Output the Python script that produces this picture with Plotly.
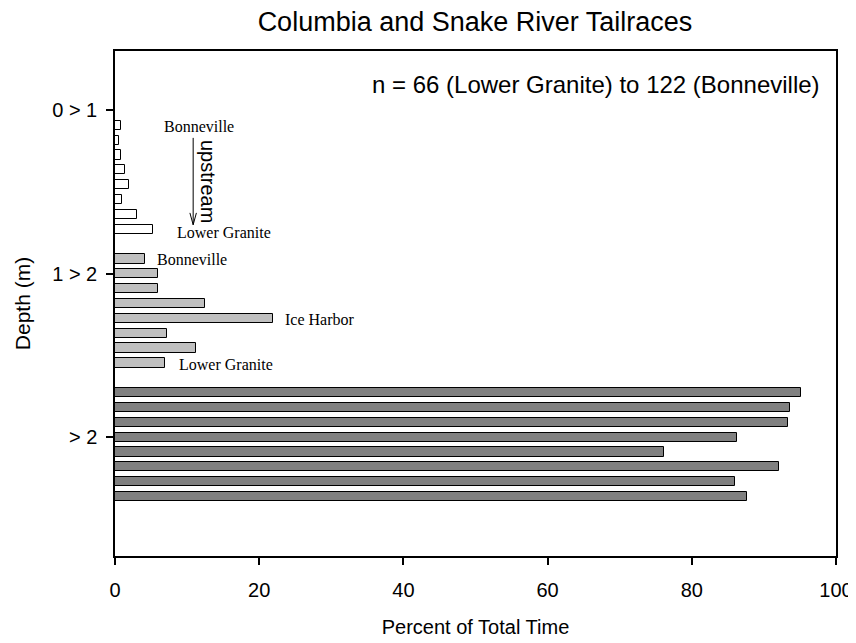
import plotly.graph_objects as go

# ---- data ----
depth_classes = ["0 > 1", "1 > 2", "> 2"]
sites = ["Bonneville", "The Dalles", "John Day", "McNary", "Ice Harbor",
         "Lower Monumental", "Little Goose", "Lower Granite"]
pct_0_1 = [0.8, 0.5, 0.9, 1.4, 1.9, 1.0, 3.0, 5.3]
pct_1_2 = [4.2, 5.9, 5.9, 12.5, 21.9, 7.2, 11.2, 7.0]
pct_gt2 = [95.1, 93.6, 93.4, 86.2, 76.2, 92.1, 86.0, 87.7]
group_values = [pct_0_1, pct_1_2, pct_gt2]
group_colors = ["#ffffff", "#c0c0c0", "#808080"]

FONT = "Liberation Sans, Arial, sans-serif"
SERIF = "Liberation Serif, Times New Roman, serif"

fig = go.Figure()
n = len(sites)
for g, vals in enumerate(group_values):
    ypos = [g * (n + 1) + i for i in range(n)]
    fig.add_trace(go.Bar(
        x=vals, y=ypos, orientation="h", width=0.62,
        marker=dict(color=group_colors[g], line=dict(color="#000000", width=1)),
        name=depth_classes[g], text=sites, hoverinfo="x+text+name",
        textposition="none", showlegend=False,
    ))

tick_pos = [g * (n + 3) - 1 for g in range(len(depth_classes))]

# page body adds an 8px margin, so the figure is 8px smaller than the window
fig.update_layout(
    width=848, height=635,
    margin=dict(l=107, r=20, t=43, b=87),
    paper_bgcolor="white", plot_bgcolor="white",
    font=dict(family=FONT, color="black", size=20),
    title=dict(text="Columbia and Snake River Tailraces", x=0.5507, xanchor="center",
               y=1, yanchor="top", pad=dict(t=4), font=dict(size=27, family=FONT)),
    xaxis=dict(range=[0, 100], tickvals=[0, 20, 40, 60, 80, 100],
               showgrid=False, zeroline=False, showline=True, linecolor="black",
               linewidth=1.5, mirror=True, ticks="outside", ticklen=7, tickcolor="black",
               tickwidth=1.5, tickfont=dict(size=20), ticklabelstandoff=8, fixedrange=True,
               automargin=False,
               title=dict(text="Percent of Total Time", font=dict(size=20), standoff=20)),
    yaxis=dict(range=[29, -5], tickvals=tick_pos, ticktext=depth_classes,
               showgrid=False, zeroline=False, showline=True, linecolor="black",
               linewidth=1.5, mirror=True, ticks="outside", ticklen=7, tickcolor="black",
               tickwidth=1.5, tickfont=dict(size=20), ticklabelstandoff=5, fixedrange=True,
               automargin=False,
               title=dict(text="Depth (m)", font=dict(size=21), standoff=16)),
    bargap=0,
)

ann = [
    dict(text="n = 66 (Lower Granite) to 122 (Bonneville)", x=0.667, y=0.933,
         xref="paper", yref="paper", xanchor="center", yanchor="middle",
         font=dict(size=24, family=FONT)),
    dict(text="Bonneville", x=11.7, y=0.1, font=dict(size=16, family=SERIF)),
    dict(text="upstream", x=13.0, y=3.8, textangle=90, font=dict(size=20, family=FONT)),
    dict(text="Lower Granite", x=15.1, y=7.25, font=dict(size=16, family=SERIF)),
    dict(text="Bonneville", x=10.7, y=9.05, font=dict(size=16, family=SERIF)),
    dict(text="Ice Harbor", x=28.4, y=13.05, font=dict(size=16, family=SERIF)),
    dict(text="Lower Granite", x=15.45, y=16.1, font=dict(size=16, family=SERIF)),
]
for a in ann:
    a.setdefault("xref", "x")
    a.setdefault("yref", "y")
    a.setdefault("xanchor", "center")
    a.setdefault("yanchor", "middle")
    a["showarrow"] = False
    fig.add_annotation(**a)

# arrow (line with open V head)
ax0, ay0, ay1 = 10.84, 0.85, 6.7
fig.add_shape(type="line", x0=ax0, x1=ax0, y0=ay0, y1=ay1, xref="x", yref="y",
              line=dict(color="black", width=1))
fig.add_shape(type="path", xref="x", yref="y",
              path=f"M {ax0-0.45} {ay1-0.8} L {ax0} {ay1} L {ax0+0.45} {ay1-0.8}",
              line=dict(color="black", width=1))

fig.write_html("out.html")
